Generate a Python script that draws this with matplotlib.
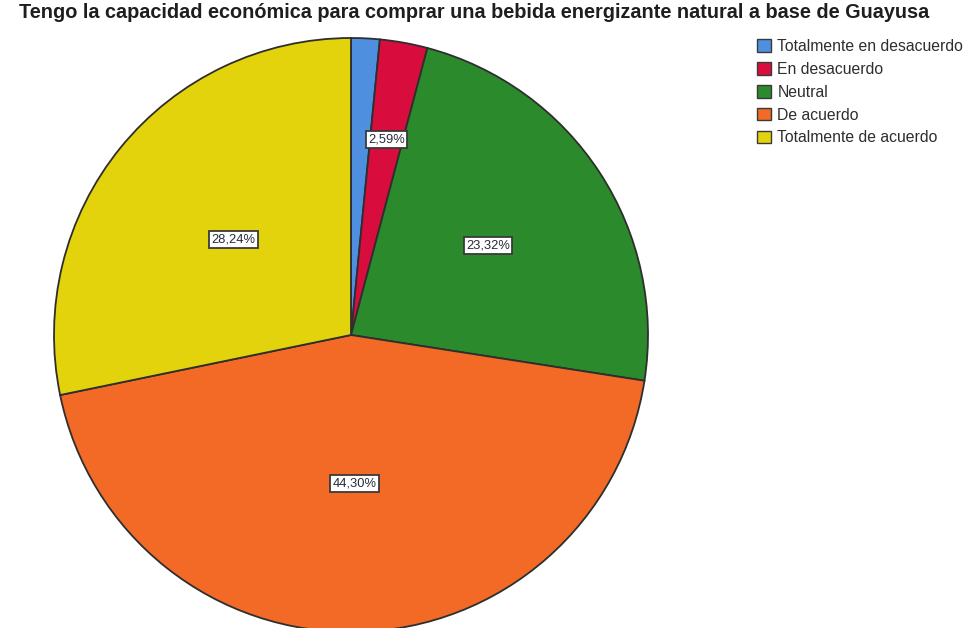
import matplotlib
matplotlib.use("Agg")
import matplotlib.pyplot as plt
import numpy as np

plt.rcParams['font.family'] = ['Liberation Sans', 'DejaVu Sans']

title = "Tengo la capacidad económica para comprar una bebida energizante natural a base de Guayusa"
categories = ["Totalmente en desacuerdo", "En desacuerdo", "Neutral", "De acuerdo", "Totalmente de acuerdo"]
percentages = [1.55, 2.59, 23.32, 44.30, 28.24]
shown_labels = [None, "2,59%", "23,32%", "44,30%", "28,24%"]
colors = ["#4f8fe0", "#d90c3e", "#2b8a2b", "#f26a26", "#e3d30c"]
label_dist = [0.0, 0.67, 0.55, 0.50, 0.51]

fig = plt.figure(figsize=(9.8, 6.28), dpi=100)
ax = fig.add_axes([54 / 980, -4 / 628, 594 / 980, 594 / 628])
wedges, _ = ax.pie(percentages, colors=colors, startangle=90, counterclock=False,
                   radius=1.0, wedgeprops=dict(edgecolor="#2e2e2e", linewidth=1.3))
ax.set_xlim(-1, 1)
ax.set_ylim(-1, 1)
ax.set_aspect('equal')
ax.axis('off')

total = sum(percentages)
start = 90.0
for val, lab, d in zip(percentages, shown_labels, label_dist):
    span = val / total * 360.0
    mid = np.deg2rad(start - span / 2)
    start -= span
    if lab is None:
        continue
    ax.text(d * np.cos(mid), d * np.sin(mid), lab, ha='center', va='center',
            fontsize=9.3, color="#2a2a3a",
            bbox=dict(boxstyle='square,pad=0.18', facecolor='white', edgecolor='#3a3a3a', linewidth=1.3))

fig.text(474 / 980, 1 - 13 / 628, title, ha='center', va='center', fontsize=14.3,
         fontweight='bold', color='#1e1e1e')

handles = [plt.Rectangle((0, 0), 1, 1, facecolor=c, edgecolor='#3a3a3a', linewidth=1.0) for c in colors]
fig.legend(handles, categories, loc='upper left', bbox_to_anchor=(757 / 980, 1 - 39 / 628),
           frameon=False, fontsize=11.3, handlelength=0.9, handleheight=0.85,
           handletextpad=0.4, labelspacing=0.5, borderaxespad=0, borderpad=0,
           labelcolor='#2e2e2e')

fig.savefig("out.png", dpi=100, facecolor='white')
